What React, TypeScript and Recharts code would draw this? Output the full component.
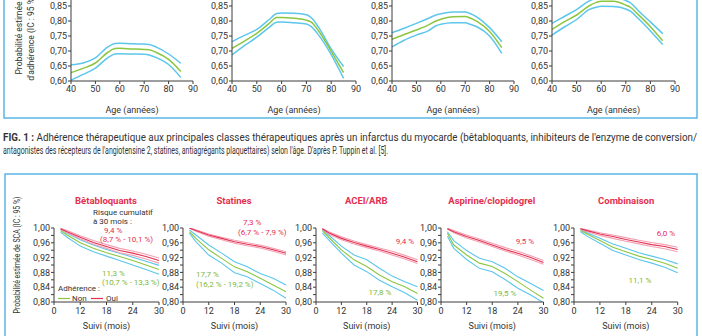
import React from 'react';
import { LineChart, Line, XAxis, YAxis } from 'recharts';

// Fig. 1 : adhérence selon l'âge (4 classes)
const AGES = [40, 45, 50, 55, 58, 60, 65, 70, 72, 75, 80, 85];
const AGE_TICKS = [40, 50, 60, 70, 80, 90];
const ADH_TICKS = [0.6, 0.65, 0.7, 0.75, 0.8, 0.85];

const A1_MID = [0.628, 0.642, 0.66, 0.695, 0.708, 0.709, 0.707, 0.705, 0.704, 0.695, 0.672, 0.632];
const A1_HI = [0.654, 0.66, 0.677, 0.713, 0.725, 0.726, 0.724, 0.723, 0.722, 0.713, 0.69, 0.659];
const A1_LO = [0.603, 0.622, 0.643, 0.677, 0.69, 0.691, 0.69, 0.689, 0.687, 0.678, 0.655, 0.612];

const A2_MID = [0.709, 0.733, 0.759, 0.792, 0.812, 0.812, 0.809, 0.803, 0.796, 0.766, 0.699, 0.628];
const A2_HI = [0.731, 0.752, 0.772, 0.805, 0.825, 0.827, 0.826, 0.821, 0.811, 0.778, 0.707, 0.648];
const A2_LO = [0.687, 0.718, 0.746, 0.779, 0.796, 0.797, 0.794, 0.79, 0.781, 0.752, 0.688, 0.609];

const A3_MID = [0.739, 0.755, 0.77, 0.787, 0.8, 0.806, 0.814, 0.815, 0.81, 0.798, 0.765, 0.711];
const A3_HI = [0.761, 0.776, 0.792, 0.809, 0.82, 0.824, 0.83, 0.83, 0.825, 0.812, 0.778, 0.731];
const A3_LO = [0.714, 0.736, 0.753, 0.768, 0.784, 0.789, 0.794, 0.794, 0.789, 0.78, 0.75, 0.692];

const A4_MID = [0.772, 0.797, 0.82, 0.85, 0.862, 0.866, 0.866, 0.853, 0.845, 0.822, 0.781, 0.734];
const A4_HI = [0.792, 0.815, 0.838, 0.866, 0.876, 0.879, 0.88, 0.868, 0.86, 0.835, 0.797, 0.758];
const A4_LO = [0.753, 0.78, 0.805, 0.838, 0.846, 0.849, 0.848, 0.84, 0.832, 0.809, 0.767, 0.722];

// Fig. 2 : probabilité de SCA selon l'adhérence
// axe du suivi : graduations équidistantes, la première (6) est étiquetée "0"
const SUIVI = [7.5, 9, 12, 15, 18, 21, 24, 27, 30];
const SUIVI_TICKS = [6, 12, 18, 24, 30];
const SCA_TICKS = [0.8, 0.82, 0.84, 0.86, 0.88, 0.9, 0.92, 0.94, 0.96, 0.98, 1.0];

const BB_OUI = [0.998, 0.99, 0.975, 0.961, 0.95, 0.939, 0.932, 0.923, 0.912];
const BB_OUI_HI = [0.999, 0.993, 0.979, 0.966, 0.955, 0.945, 0.938, 0.929, 0.919];
const BB_OUI_LO = [0.997, 0.987, 0.971, 0.956, 0.945, 0.933, 0.926, 0.916, 0.905];
const BB_NON = [0.993, 0.981, 0.96, 0.945, 0.933, 0.923, 0.912, 0.9, 0.888];
const BB_NON_HI = [0.996, 0.986, 0.968, 0.954, 0.942, 0.932, 0.921, 0.91, 0.899];
const BB_NON_LO = [0.989, 0.975, 0.951, 0.936, 0.924, 0.912, 0.9, 0.888, 0.875];

const ST_OUI = [1.0, 0.993, 0.981, 0.972, 0.963, 0.956, 0.95, 0.941, 0.932];
const ST_OUI_HI = [1.0, 0.995, 0.984, 0.975, 0.967, 0.96, 0.954, 0.945, 0.936];
const ST_OUI_LO = [0.999, 0.991, 0.978, 0.968, 0.959, 0.952, 0.946, 0.937, 0.927];
const ST_NON = [0.99, 0.972, 0.941, 0.918, 0.895, 0.882, 0.864, 0.846, 0.828];
const ST_NON_HI = [0.995, 0.981, 0.954, 0.932, 0.909, 0.895, 0.877, 0.864, 0.846];
const ST_NON_LO = [0.986, 0.963, 0.927, 0.905, 0.879, 0.868, 0.85, 0.832, 0.81];

const AC_OUI = [0.998, 0.987, 0.972, 0.961, 0.951, 0.942, 0.932, 0.921, 0.909];
const AC_OUI_HI = [0.999, 0.99, 0.976, 0.965, 0.955, 0.946, 0.937, 0.926, 0.914];
const AC_OUI_LO = [0.997, 0.984, 0.968, 0.957, 0.947, 0.938, 0.927, 0.916, 0.904];
const AC_NON = [0.993, 0.975, 0.941, 0.914, 0.896, 0.873, 0.855, 0.841, 0.823];
const AC_NON_HI = [0.996, 0.981, 0.951, 0.927, 0.914, 0.891, 0.87, 0.855, 0.841];
const AC_NON_LO = [0.987, 0.968, 0.932, 0.9, 0.882, 0.859, 0.841, 0.825, 0.805];

const AS_OUI = [0.998, 0.99, 0.977, 0.966, 0.954, 0.942, 0.932, 0.92, 0.907];
const AS_OUI_HI = [0.999, 0.993, 0.981, 0.97, 0.959, 0.947, 0.937, 0.925, 0.912];
const AS_OUI_LO = [0.997, 0.987, 0.973, 0.962, 0.95, 0.938, 0.927, 0.915, 0.902];
const AS_NON = [0.986, 0.954, 0.927, 0.905, 0.896, 0.877, 0.855, 0.832, 0.81];
const AS_NON_HI = [0.99, 0.966, 0.939, 0.918, 0.909, 0.891, 0.868, 0.85, 0.831];
const AS_NON_LO = [0.978, 0.945, 0.915, 0.891, 0.882, 0.861, 0.837, 0.819, 0.798];

const CO_OUI = [0.998, 0.993, 0.984, 0.977, 0.969, 0.962, 0.955, 0.95, 0.942];
const CO_OUI_HI = [0.999, 0.995, 0.987, 0.981, 0.974, 0.967, 0.961, 0.955, 0.948];
const CO_OUI_LO = [0.997, 0.99, 0.98, 0.972, 0.964, 0.957, 0.95, 0.944, 0.936];
const CO_NON = [0.993, 0.984, 0.966, 0.948, 0.936, 0.924, 0.915, 0.905, 0.891];
const CO_NON_HI = [0.996, 0.987, 0.972, 0.957, 0.945, 0.933, 0.924, 0.915, 0.903];
const CO_NON_LO = [0.99, 0.978, 0.959, 0.939, 0.927, 0.915, 0.905, 0.894, 0.879];

const COLORS = {
    axis: '#3c3c3c',
    text: '#333333',
    cyan: '#5cc6ec',
    green: '#8cc63f',
    greenText: '#7db83a',
    red: '#e3304f',
    pink: '#f2a0b4',
    border: '#58b7e3',
};
const FONT = 'Roboto, "Noto Sans", sans-serif';

const fmt = (v: number) => v.toFixed(2).replace('.', ',');

const AgePanel = ({ x0, x1, mid, hi, lo }: any) => {
    const data = AGES.map((age, i) => ({ age, mid: mid[i], hi: hi[i], lo: lo[i] }));
    const yw = 40;
    return (
        <div style={{ position: 'absolute', left: x0 - yw, top: -9 }}>
            <LineChart width={yw + (x1 - x0) + 6} height={90 + 36} data={data} margin={{ top: 0, right: 6, bottom: 0, left: 0 }}>
                <XAxis dataKey="age" type="number" domain={[40, 90]} ticks={AGE_TICKS} interval={0} height={36}
                    tickSize={3} tickMargin={2} stroke={COLORS.axis} tick={{ fill: COLORS.text, fontSize: 9, fontFamily: FONT }}
                    label={{ value: 'Age (années)', position: 'insideBottom', offset: 4, fill: COLORS.text, fontSize: 9, fontFamily: FONT }} />
                <YAxis type="number" domain={[0.6, 0.9]} ticks={ADH_TICKS} interval={0} width={yw}
                    tickSize={3} tickMargin={1} stroke={COLORS.axis} tickFormatter={fmt}
                    tick={{ fill: COLORS.text, fontSize: 9, fontFamily: FONT }} />
                <Line type="monotone" dataKey="hi" stroke={COLORS.cyan} strokeWidth={1.5} dot={false} isAnimationActive={false} />
                <Line type="monotone" dataKey="lo" stroke={COLORS.cyan} strokeWidth={1.5} dot={false} isAnimationActive={false} />
                <Line type="monotone" dataKey="mid" stroke={COLORS.green} strokeWidth={1.5} dot={false} isAnimationActive={false} />
            </LineChart>
        </div>
    );
};

const ScaPanel = ({ x0, x1, oui, ouiHi, ouiLo, non, nonHi, nonLo }: any) => {
    const data = SUIVI.map((m, i) => ({
        m, oui: oui[i], ouiHi: ouiHi[i], ouiLo: ouiLo[i], non: non[i], nonHi: nonHi[i], nonLo: nonLo[i],
    }));
    const yw = 30;
    const line = (key: string, color: string, w = 1.1) => (
        <Line type="linear" dataKey={key} stroke={color} strokeWidth={w} dot={false} isAnimationActive={false} />
    );
    return (
        <div style={{ position: 'absolute', left: x0 - yw, top: 221 }}>
            <LineChart width={yw + (x1 - x0) + 6} height={7 + 74 + 34} data={data} margin={{ top: 7, right: 6, bottom: 0, left: 0 }}>
                <XAxis dataKey="m" type="number" domain={[6, 30]} ticks={SUIVI_TICKS} interval={0} height={34}
                    tickSize={3} tickMargin={3} stroke={COLORS.axis} tickFormatter={(v: number) => (v === 6 ? '0' : String(v))}
                    tick={{ fill: COLORS.text, fontSize: 9, fontFamily: FONT }}
                    label={{ value: 'Suivi (mois)', position: 'insideBottom', offset: 7, fill: COLORS.text, fontSize: 9, fontFamily: FONT }} />
                <YAxis type="number" domain={[0.8, 1.0]} ticks={SCA_TICKS} interval={0} width={yw} allowDataOverflow
                    tickSize={3} tickMargin={1} stroke={COLORS.axis}
                    tickFormatter={(v: number) => (Math.round(v * 100) % 4 === 0 ? fmt(v) : '')}
                    tick={{ fill: COLORS.text, fontSize: 9, fontFamily: FONT }} />
                {line('nonHi', COLORS.cyan)}
                {line('nonLo', COLORS.cyan)}
                {line('non', COLORS.green)}
                {line('ouiHi', COLORS.pink)}
                {line('ouiLo', COLORS.pink)}
                {line('oui', COLORS.red)}
            </LineChart>
        </div>
    );
};

const T = ({ x, y, c = COLORS.text, size = 8, anchor = 'start', weight = 400, children, len }: any) => (
    <text x={x} y={y} fill={c} fontSize={size} fontWeight={weight} textAnchor={anchor} dominantBaseline="central"
        fontFamily={FONT} textLength={len} lengthAdjust={len ? 'spacingAndGlyphs' : undefined}>
        {children}
    </text>
);

const SCA_PANELS = [
    { x0: 53.5, x1: 158.5, title: 'Bêtabloquants', oui: BB_OUI, ouiHi: BB_OUI_HI, ouiLo: BB_OUI_LO, non: BB_NON, nonHi: BB_NON_HI, nonLo: BB_NON_LO },
    { x0: 182.5, x1: 285.5, title: 'Statines', oui: ST_OUI, ouiHi: ST_OUI_HI, ouiLo: ST_OUI_LO, non: ST_NON, nonHi: ST_NON_HI, nonLo: ST_NON_LO },
    { x0: 315.5, x1: 417, title: 'ACEI/ARB', oui: AC_OUI, ouiHi: AC_OUI_HI, ouiLo: AC_OUI_LO, non: AC_NON, nonHi: AC_NON_HI, nonLo: AC_NON_LO },
    { x0: 440.5, x1: 543, title: 'Aspirine/clopidogrel', oui: AS_OUI, ouiHi: AS_OUI_HI, ouiLo: AS_OUI_LO, non: AS_NON, nonHi: AS_NON_HI, nonLo: AS_NON_LO },
    { x0: 574.3, x1: 678, title: 'Combinaison', oui: CO_OUI, ouiHi: CO_OUI_HI, ouiLo: CO_OUI_LO, non: CO_NON, nonHi: CO_NON_HI, nonLo: CO_NON_LO },
];

const App = () => {
    return (
        <div style={{ position: 'absolute', left: 0, top: 0, width: 702, height: 336, overflow: 'hidden', background: '#fff' }}>
            <AgePanel x0={71} x1={193} mid={A1_MID} hi={A1_HI} lo={A1_LO} />
            <AgePanel x0={232} x1={356} mid={A2_MID} hi={A2_HI} lo={A2_LO} />
            <AgePanel x0={392} x1={514} mid={A3_MID} hi={A3_HI} lo={A3_LO} />
            <AgePanel x0={552} x1={675} mid={A4_MID} hi={A4_HI} lo={A4_LO} />

            {SCA_PANELS.map((p) => (
                <ScaPanel key={p.title} {...p} />
            ))}

            <svg width={702} height={336} style={{ position: 'absolute', left: 0, top: 0, pointerEvents: 'none' }}>
                {/* cadres */}
                <rect x={4} y={-4} width={693} height={122} fill="none" stroke={COLORS.border} strokeWidth={1.5} />
                <rect x={5} y={174} width={692} height={180} fill="none" stroke={COLORS.border} strokeWidth={1.5} />

                {/* titre axe y, figure du haut */}
                <g transform="translate(19,38) rotate(-90)">
                    <T x={0} y={0} anchor="middle" size={8.5}>Probabilité estimée</T>
                </g>
                <g transform="translate(31,38) rotate(-90)">
                    <T x={0} y={0} anchor="middle" size={8.5}>d'adhérence (IC : 95 %)</T>
                </g>

                {/* légende de la figure 1 */}
                <text x={3} y={137} fontSize={10} fill={COLORS.text} fontFamily={FONT} dominantBaseline="central"
                    textLength={694} lengthAdjust="spacingAndGlyphs">
                    <tspan fontWeight={700}>FIG. 1 :</tspan> Adhérence thérapeutique aux principales classes thérapeutiques après un infarctus du myocarde (bêtabloquants, inhibiteurs de l'enzyme de conversion/
                </text>
                <T x={3} y={150} size={10} len={385}>antagonistes des récepteurs de l'angiotensine 2, statines, antiagrégants plaquettaires) selon l'âge. D'après P. Tuppin et al. [5].</T>

                {/* titre axe y, figure du bas */}
                <g transform="translate(17,255) rotate(-90)">
                    <T x={0} y={0} anchor="middle" size={8.5} len={117}>Probabilité estimée de SCA (IC : 95 %)</T>
                </g>

                {SCA_PANELS.map((p) => (
                    <T key={p.title} x={(p.x0 + p.x1) / 2} y={200} anchor="middle" c={COLORS.red} size={9.5} weight={700}>{p.title}</T>
                ))}

                {/* annotations */}
                <T x={93} y={212.5}>Risque cumulatif</T>
                <T x={93} y={221}>à 30 mois :</T>
                <T x={104} y={230} c={COLORS.red}>9,4 %</T>
                <T x={100} y={239} c={COLORS.red}>(8,7 % - 10,1 %)</T>
                <T x={102} y={273} c={COLORS.greenText}>11,3 %</T>
                <T x={102} y={282} c={COLORS.greenText}>(10,7 % - 13,3 %)</T>
                <T x={58} y={288}>Adhérence :</T>
                <line x1={58} x2={70} y1={298.5} y2={298.5} stroke={COLORS.green} strokeWidth={1.2} />
                <T x={72} y={298.5}>Non</T>
                <line x1={91} x2={103} y1={298.5} y2={298.5} stroke={COLORS.red} strokeWidth={1.2} />
                <T x={106} y={298.5}>Oui</T>

                <T x={243} y={222} c={COLORS.red}>7,3 %</T>
                <T x={238} y={232} c={COLORS.red}>(6,7 % - 7,9 %)</T>
                <T x={196} y={274} c={COLORS.greenText}>17,7 %</T>
                <T x={196} y={284} c={COLORS.greenText}>(16,2 % - 19,2 %)</T>

                <T x={405} y={241} anchor="middle" c={COLORS.red}>9,4 %</T>
                <T x={380} y={292} anchor="middle" c={COLORS.greenText}>17,8 %</T>

                <T x={525} y={241} anchor="middle" c={COLORS.red}>9,5 %</T>
                <T x={505} y={293} anchor="middle" c={COLORS.greenText}>19,5 %</T>

                <T x={666} y={233} anchor="middle" c={COLORS.red}>6,0 %</T>
                <T x={640} y={280} anchor="middle" c={COLORS.greenText}>11,1 %</T>
            </svg>
        </div>
    );
};

export default App;
